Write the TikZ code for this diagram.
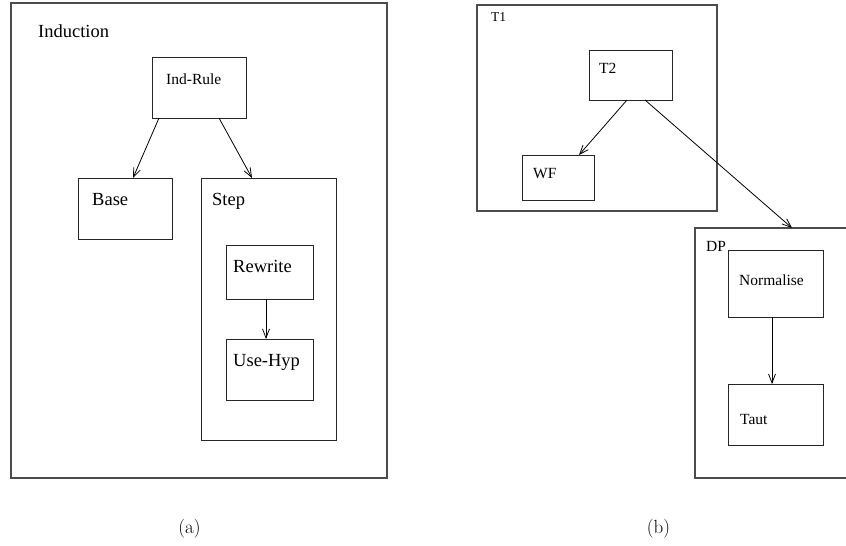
\documentclass[tikz,border=0pt]{standalone}
\usepackage{fontspec}
\newfontfamily\tms{Liberation Serif}
\usetikzlibrary{arrows.meta}
\tikzset{
  box/.style={draw=black!85, line width=0.9pt, rectangle, inner sep=0pt, outer sep=0pt, anchor=north west},
  outerbox/.style={box, draw=black!70, line width=1.2pt},
  lbl/.style={anchor=base west, inner sep=0pt, font=\tms\fontsize{18.5}{20}\selectfont},
  slbl/.style={anchor=base west, inner sep=0pt, font=\tms\fontsize{15.5}{17}\selectfont},
  tlbl/.style={anchor=base west, inner sep=0pt, font=\tms\fontsize{13.5}{15}\selectfont},
  captext/.style={anchor=base, inner sep=0pt, font=\fontsize{19}{21}\selectfont},
  conn/.style={draw=black, line width=0.8pt, -{Straight Barb[length=9pt, width=7pt]}}
}
\begin{document}
\begin{tikzpicture}[x=1pt, y=-1pt]
\useasboundingbox (0,0) rectangle (846,546);
\clip (0,0) rectangle (846,546);
% (a)
\node[outerbox, minimum width=376pt, minimum height=475pt] (induction) at (11,3) {};
\node[lbl] (tinduction) at (38,37) {Induction};
\node[box, minimum width=94pt, minimum height=61pt] (indrule) at (152,57) {};
\node[slbl] (tindrule) at (166,84) {Ind-Rule};
\node[box, minimum width=94pt, minimum height=61pt] (base) at (78,178) {};
\node[lbl] (tbase) at (92,205) {Base};
\node[box, minimum width=135pt, minimum height=262pt] (step) at (201,178) {};
\node[lbl] (tstep) at (212,205) {Step};
\node[box, minimum width=87pt, minimum height=54pt] (rewrite) at (226,245) {};
\node[lbl] (trewrite) at (233,272) {Rewrite};
\node[box, minimum width=87pt, minimum height=61pt] (usehyp) at (226,339) {};
\node[lbl] (tusehyp) at (233,366) {Use-Hyp};
\draw[conn] ([xshift=7pt]indrule.south west) -- ([xshift=55pt]base.north west);
\draw[conn] ([xshift=67pt]indrule.south west) -- ([xshift=51pt]step.north west);
\draw[conn] ([xshift=40pt]rewrite.south west) -- ([xshift=40pt]usehyp.north west);
\node[captext] (capa) at (189.5,533) {(a)};
% (b)
\node[outerbox, minimum width=240pt, minimum height=206pt] (t1) at (477,5) {};
\node[tlbl] (tt1) at (491,21) {T1};
\node[box, minimum width=83pt, minimum height=50pt] (t2) at (589,50) {};
\node[slbl] (tt2) at (599,73) {T2};
\node[box, minimum width=72pt, minimum height=45pt] (wf) at (522,155) {};
\node[slbl] (twf) at (533,178) {WF};
\node[outerbox, minimum width=160pt, minimum height=250pt] (dp) at (695,228) {};
\node[slbl] (tdp) at (706,251) {DP};
\node[box, minimum width=95pt, minimum height=67pt] (normalise) at (728,250) {};
\node[slbl] (tnormalise) at (739,285) {Normalise};
\node[box, minimum width=95pt, minimum height=61pt] (taut) at (728,384) {};
\node[slbl] (ttaut) at (740,424) {Taut};
\draw[conn] ([xshift=38pt]t2.south west) -- ([xshift=57pt]wf.north west);
\draw[conn] ([xshift=56pt]t2.south west) -- ([xshift=97pt]dp.north west);
\draw[conn] ([xshift=44pt]normalise.south west) -- ([xshift=44pt]taut.north west);
\node[captext] (capb) at (658.5,533) {(b)};
\end{tikzpicture}
\end{document}
